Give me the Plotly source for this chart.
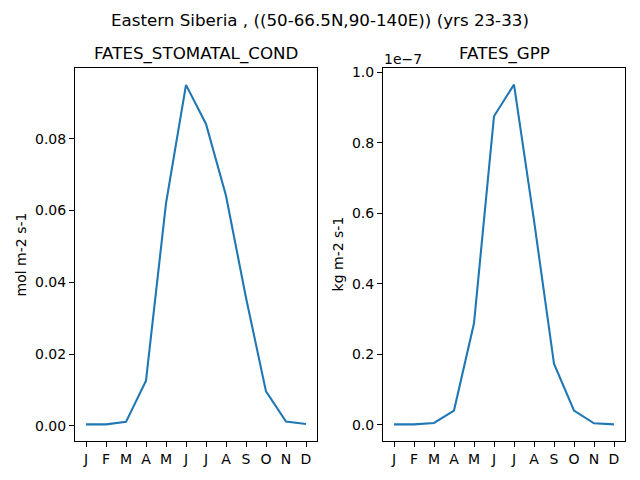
import plotly.graph_objects as go

months = ["J", "F", "M", "A", "M", "J", "J", "A", "S", "O", "N", "D"]
stomatal_cond = [0.0004, 0.0004, 0.0011, 0.0126, 0.062, 0.095, 0.0841, 0.0641, 0.0357, 0.0096, 0.0012, 0.0005]
gpp_1e7 = [0.001, 0.001, 0.005, 0.040, 0.288, 0.876, 0.966, 0.580, 0.173, 0.040, 0.004, 0.001]

suptitle = "Eastern Siberia , ((50-66.5N,90-140E)) (yrs 23-33)"
titles = ["FATES_STOMATAL_COND", "FATES_GPP"]
ylabels = ["mol m-2 s-1", "kg m-2 s-1"]

OFF = 8  # page body margin of the browser
W, H = 640 - OFF, 480 - OFF
FONT = "DejaVu Sans"
x_idx = list(range(len(months)))


def px(p):
    return (p - OFF) / W


def py(p):
    return 1 - (p - OFF) / H


fig = go.Figure()
fig.add_trace(go.Scatter(x=x_idx, y=stomatal_cond, mode="lines",
                         line=dict(color="#1f77b4", width=2.1), xaxis="x", yaxis="y"))
fig.add_trace(go.Scatter(x=x_idx, y=gpp_1e7, mode="lines",
                         line=dict(color="#1f77b4", width=2.1), xaxis="x2", yaxis="y2"))

y_dom = [py(441), py(65)]
axcommon = dict(showline=True, linecolor="black", linewidth=1.1, mirror=True,
                ticks="outside", ticklen=5, tickwidth=1.1, tickcolor="black",
                showgrid=False, zeroline=False,
                tickfont=dict(family=FONT, size=14, color="black"))

fig.update_layout(
    width=W, height=H,
    margin=dict(l=0, r=0, t=0, b=0),
    paper_bgcolor="white", plot_bgcolor="white",
    showlegend=False,
    font=dict(family=FONT, color="black"),
    xaxis=dict(domain=[px(75), px(317)], range=[-0.55, 11.55],
               tickvals=x_idx, ticktext=months, anchor="y", **axcommon),
    yaxis=dict(domain=y_dom, range=[-0.0043, 0.0998],
               tickvals=[0, 0.02, 0.04, 0.06, 0.08], tickformat=".2f",
               anchor="x", **axcommon),
    xaxis2=dict(domain=[px(383), px(625)], range=[-0.55, 11.55],
                tickvals=x_idx, ticktext=months, anchor="y2", **axcommon),
    yaxis2=dict(domain=y_dom, range=[-0.047, 1.014],
                tickvals=[0, 0.2, 0.4, 0.6, 0.8, 1.0], tickformat=".1f",
                anchor="x2", **axcommon),
)

ann = []
ann.append(dict(text=suptitle, x=px(320), y=py(17), xref="paper", yref="paper",
                xanchor="center", yanchor="middle", showarrow=False,
                font=dict(family=FONT, size=16.7, color="black")))
for xc, t in zip([px((75 + 317) / 2), px((383 + 625) / 2)], titles):
    ann.append(dict(text=t, x=xc, y=py(51), xref="paper", yref="paper",
                    xanchor="center", yanchor="middle", showarrow=False,
                    font=dict(family=FONT, size=16.7, color="black")))
for xp, t in zip([px(21), px(338)], ylabels):
    ann.append(dict(text=t, x=xp, y=(y_dom[0] + y_dom[1]) / 2, xref="paper", yref="paper",
                    xanchor="center", yanchor="middle", showarrow=False, textangle=-90,
                    font=dict(family=FONT, size=14, color="black")))
ann.append(dict(text="1e\u22127", x=px(382), y=py(56), xref="paper", yref="paper",
                xanchor="left", yanchor="middle", showarrow=False,
                font=dict(family=FONT, size=14, color="black")))
fig.update_layout(annotations=ann)

fig.write_html("out.html")
